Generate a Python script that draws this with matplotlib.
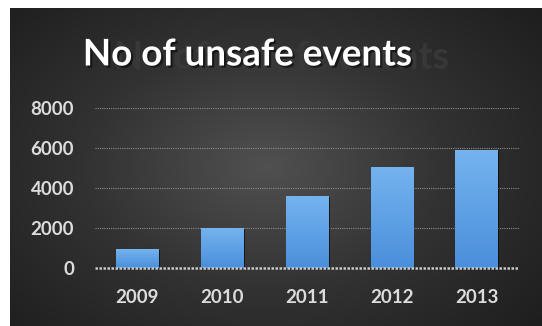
import numpy as np
import matplotlib.pyplot as plt
import matplotlib.patheffects as pe
from matplotlib.colors import LinearSegmentedColormap

# data
years = ['2009', '2010', '2011', '2012', '2013']
events = [950, 2000, 3600, 5050, 5900]
yticks = [0, 2000, 4000, 6000, 8000]

W, H = 542, 326
fig = plt.figure(figsize=(W / 100, H / 100), dpi=100)
fig.patch.set_facecolor('white')

# dark radial background
bg = fig.add_axes([10 / W, 0, (W - 10) / W, (H - 8) / H])
yy, xx = np.mgrid[0:1:200j, 0:1:330j]
r = np.sqrt(((xx - 0.48) / 0.75) ** 2 + ((yy - 0.5) / 0.85) ** 2)
shade = np.clip(1 - r, 0, 1)
bg_cmap = LinearSegmentedColormap.from_list('bg', ['#1e1e1e', '#323232', '#505050'])
bg.imshow(shade, cmap=bg_cmap, aspect='auto', extent=[0, 1, 0, 1], origin='lower')
bg.set_axis_off()

# ghost title behind
fig.text(282 / W, 1 - 58 / H, 'No of unsafe events', ha='center', va='center',
         fontsize=27, fontweight='bold', family='Lato', color='#3a3a3a', alpha=0.85)
# title
fig.text(247 / W, 1 - 55 / H, 'No of unsafe events', ha='center', va='center',
         fontsize=26.5, fontweight='bold', family='Lato', color='white',
         path_effects=[pe.withSimplePatchShadow(offset=(1.5, -1.5), shadow_rgbFace='black', alpha=0.55)])

ax = fig.add_axes([95 / W, 1 - 268 / H, 424 / W, 160 / H])
ax.set_facecolor('none')
x = np.arange(len(years))
bars = ax.bar(x, events, width=0.5, color='#5a9fe6', zorder=3)
bar_cmap = LinearSegmentedColormap.from_list('bar', ['#4a8fdc', '#74b3ee'])
grad = np.linspace(0, 1, 100).reshape(-1, 1)
for b in bars:
    b.set_path_effects([pe.withSimplePatchShadow(offset=(1, -1), shadow_rgbFace='black', alpha=0.6)])
    im = ax.imshow(grad, cmap=bar_cmap, aspect='auto', origin='lower', zorder=4,
                   extent=[b.get_x(), b.get_x() + b.get_width(), 0, b.get_height()])
    im.set_clip_path(b)

ax.set_xlim(-0.5, 4.5)
ax.set_ylim(0, 8000)
ax.set_yticks(yticks)
ax.set_xticks(x)
ax.set_xticklabels(years)
for s in ax.spines.values():
    s.set_visible(False)
for v in yticks[1:]:
    ax.axhline(v, color='#8c8c8c', lw=0.8, ls=(0, (1, 1)), zorder=1)
ax.axhline(0, color='#c8c8c8', lw=1.8, ls=(0, (1, 0.6)), zorder=5, clip_on=False)
ax.tick_params(length=0, colors='#dcdcdc', labelsize=13.5)
ax.tick_params(axis='y', pad=15)
ax.tick_params(axis='x', pad=15)
for lab in ax.get_xticklabels() + ax.get_yticklabels():
    lab.set_fontfamily('Lato')
    lab.set_fontweight('bold')

fig.savefig('out.png', dpi=100)
